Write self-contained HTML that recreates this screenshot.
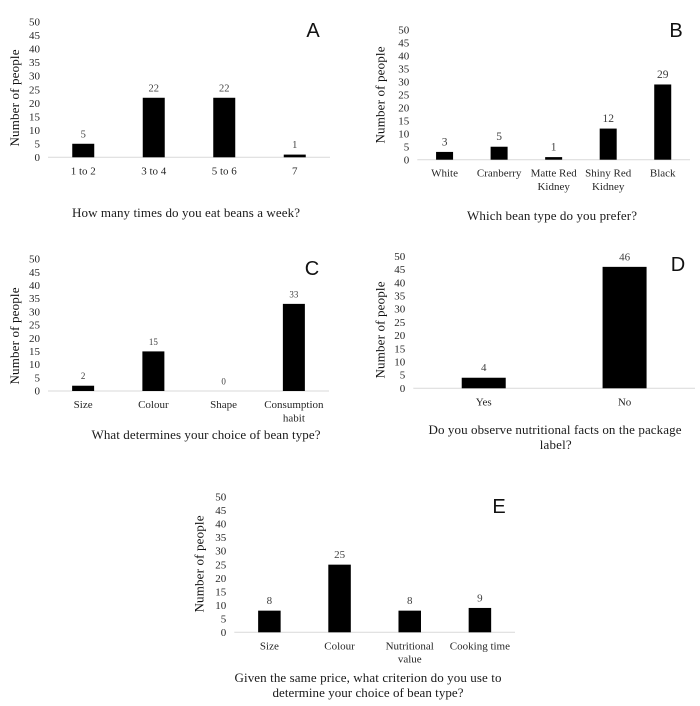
<!DOCTYPE html>
<html lang="en">
<head>
<meta charset="utf-8">
<title>Bean survey charts</title>
<style>
html,body{margin:0;padding:0;background:#fff;width:700px;height:706px;overflow:hidden}
svg{display:block}
text{font-family:"Liberation Serif",serif;fill:#262626}
.tick{font-size:11px;fill:#262626}
.cat{font-size:11px;fill:#262626}
.val{fill:#404040}
.ytitle{font-size:13px;fill:#111}
.title{font-size:13px;fill:#1a1a1a}
.letter{font-family:"Liberation Sans",sans-serif;font-size:20px;fill:#111}
</style>
</head>
<body>
<svg id="figure" width="700" height="706" viewBox="0 0 700 706" xmlns="http://www.w3.org/2000/svg"></svg>
<script>
// Chart data
const yTickLabels = [0, 5, 10, 15, 20, 25, 30, 35, 40, 45, 50];
const yMax = 50;

const categoriesA = [["1 to 2"], ["3 to 4"], ["5 to 6"], ["7"]];
const valuesA = [5, 22, 22, 1];

const categoriesB = [["White"], ["Cranberry"], ["Matte Red", "Kidney"], ["Shiny Red", "Kidney"], ["Black"]];
const valuesB = [3, 5, 1, 12, 29];

const categoriesC = [["Size"], ["Colour"], ["Shape"], ["Consumption", "habit"]];
const valuesC = [2, 15, 0, 33];

const categoriesD = [["Yes"], ["No"]];
const valuesD = [4, 46];

const categoriesE = [["Size"], ["Colour"], ["Nutritional", "value"], ["Cooking time"]];
const valuesE = [8, 25, 8, 9];

// Panel layout
const panels = [
  {id:"a", letter:"A", cats:categoriesA, vals:valuesA, x0:48, x1:330, top:22, base:157.3, barW:22, valSize:10.5,
   yTitleX:14.5, yTitleY:98, letterX:313, letterY:37,
   title:[{t:"How many times do you eat beans a week?", x:186, y:217, w:228}]},
  {id:"b", letter:"B", cats:categoriesB, vals:valuesB, x0:417.3, x1:690, top:30, base:159.7, barW:17, valSize:11.5,
   yTitleX:380, yTitleY:95, letterX:676, letterY:37,
   title:[{t:"Which bean type do you prefer?", x:552, y:220, w:170}]},
  {id:"c", letter:"C", cats:categoriesC, vals:valuesC, x0:48, x1:329, top:259, base:391, barW:22, valSize:9,
   yTitleX:14.5, yTitleY:336, letterX:312, letterY:275,
   title:[{t:"What determines your choice of bean type?", x:206, y:439, w:229}]},
  {id:"d", letter:"D", cats:categoriesD, vals:valuesD, x0:413.3, x1:695, top:256.3, base:388.3, barW:44, valSize:11,
   yTitleX:380, yTitleY:330, letterX:678, letterY:271,
   title:[{t:"Do you observe nutritional facts on the package", x:555, y:434, w:253},
          {t:"label?", x:555.7, y:449, w:32}]},
  {id:"e", letter:"E", cats:categoriesE, vals:valuesE, x0:234.3, x1:515, top:497, base:632.3, barW:22.5, valSize:11,
   yTitleX:199, yTitleY:564, letterX:499, letterY:513,
   title:[{t:"Given the same price, what criterion do you use to", x:368, y:682, w:267},
          {t:"determine your choice of bean type?", x:368, y:697, w:191}]}
];

const svgNS = "http://www.w3.org/2000/svg";
const root = document.getElementById("figure");

function addText(parent, cls, x, y, str, anchor, name, width) {
  const el = document.createElementNS(svgNS, "text");
  el.setAttribute("class", cls);
  el.setAttribute("x", x);
  el.setAttribute("y", y);
  el.setAttribute("text-anchor", anchor);
  if (width) {
    el.setAttribute("textLength", width);
    el.setAttribute("lengthAdjust", "spacing");
  }
  
  
  el.textContent = str;
  parent.appendChild(el);
  return el;
}

function drawPanel(p) {
  const g = document.createElementNS(svgNS, "g");
  
  
  root.appendChild(g);

  const yScale = v => p.base - (v / yMax) * (p.base - p.top);
  const band = (p.x1 - p.x0) / p.cats.length;
  const xScale = i => p.x0 + band * (i + 0.5);

  yTickLabels.forEach(v => {
    addText(g, "tick", p.x0 - 8, yScale(v) + 3.6, String(v), "end", "y-tick-" + v);
  });

  const axis = document.createElementNS(svgNS, "line");
  axis.setAttribute("x1", p.x0);
  axis.setAttribute("x2", p.x1);
  axis.setAttribute("y1", p.base);
  axis.setAttribute("y2", p.base);
  axis.setAttribute("stroke", "#d9d9d9");
  axis.setAttribute("stroke-width", "1");
  
  
  g.appendChild(axis);

  p.vals.forEach((v, i) => {
    const cx = xScale(i);
    const bar = document.createElementNS(svgNS, "rect");
    bar.setAttribute("x", cx - p.barW / 2);
    bar.setAttribute("y", yScale(v));
    bar.setAttribute("width", p.barW);
    bar.setAttribute("height", p.base - yScale(v));
    bar.setAttribute("fill", "#000");
    
    
    g.appendChild(bar);

    const valueLabel = addText(g, "val", cx, yScale(v) - 6.5, String(v), "middle", "value-label-" + (i + 1));
    valueLabel.style.fontSize = p.valSize + "px";

    p.cats[i].forEach((line, k) => {
      addText(g, "cat", cx, p.base + 17 + k * 13.3, line, "middle", "category-label-" + (i + 1));
    });
  });

  const yt = addText(g, "ytitle", 0, 0, "Number of people", "middle", "y-axis-title", 97);
  yt.setAttribute("transform", "translate(" + (p.yTitleX + 4.3) + "," + p.yTitleY + ") rotate(-90)");

  p.title.forEach(l => {
    addText(g, "title", l.x, l.y, l.t, "middle", "chart-question", l.w);
  });

  addText(g, "letter", p.letterX, p.letterY, p.letter, "middle", "panel-letter");
}

panels.forEach(drawPanel);
</script>
</body>
</html>
